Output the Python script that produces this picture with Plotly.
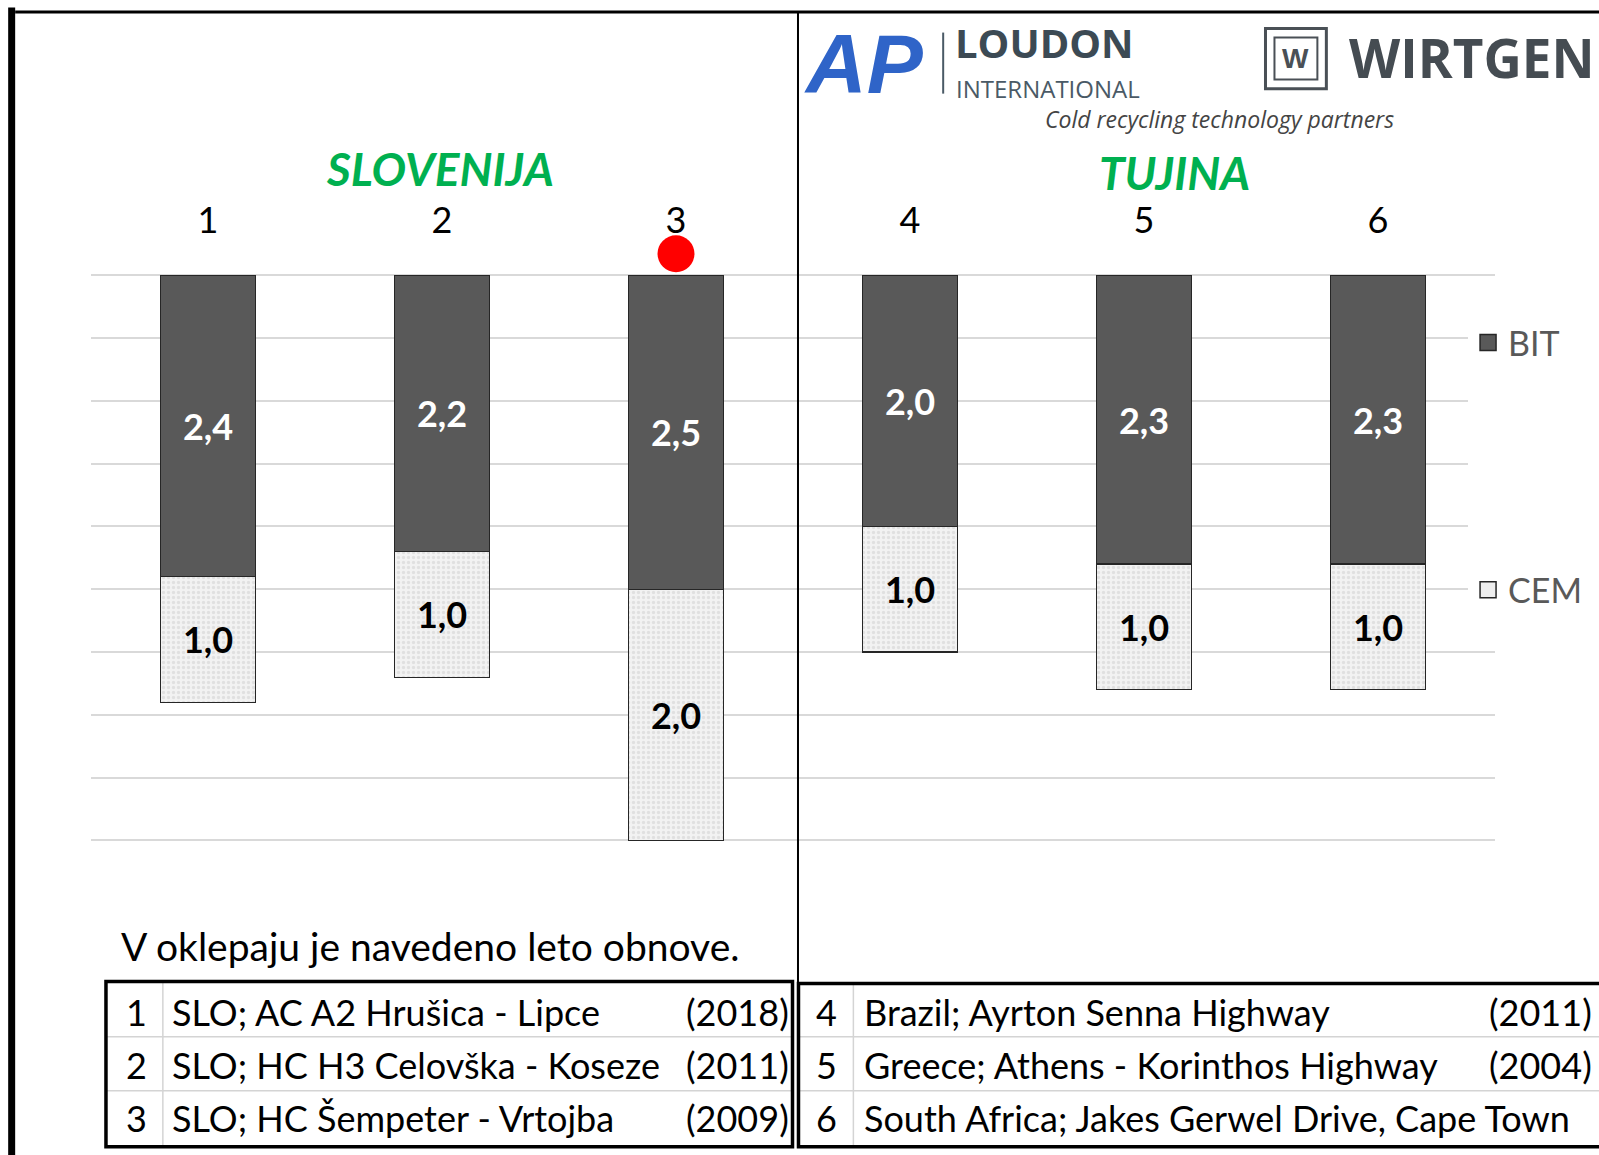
import plotly.graph_objects as go

# ---------------- data ----------------
categories = ["1", "2", "3", "4", "5", "6"]
bit_values = [2.4, 2.2, 2.5, 2.0, 2.3, 2.3]
cem_values = [1.0, 1.0, 2.0, 1.0, 1.0, 1.0]
series_names = ["BIT", "CEM"]
group_titles = ["SLOVENIJA", "TUJINA"]
highlighted = ["3"]
y_ticks = [0, 0.5, 1, 1.5, 2, 2.5, 3, 3.5, 4, 4.5]

left_ids = ["1", "2", "3"]
left_names = ["SLO; AC A2 Hrušica - Lipce", "SLO; HC H3 Celovška - Koseze", "SLO; HC Šempeter - Vrtojba"]
left_years = ["(2018)", "(2011)", "(2009)"]
right_ids = ["4", "5", "6"]
right_names = ["Brazil; Ayrton Senna Highway", "Greece; Athens - Korinthos Highway",
               "South Africa; Jakes Gerwel Drive, Cape Town"]
right_years = ["(2011)", "(2004)", ""]
note_text = "V oklepaju je navedeno leto obnove."

# ---------------- geometry (pixels) ----------------
W, H = 1599, 1155
Y_TOP, Y_BOT = -0.2, 4.52          # axis range (reversed)
PX_PER_UNIT = 125.5
ZERO_PX = 275.3                    # pixel row of value 0
L, R = 91, 1498
T = ZERO_PX + Y_TOP * PX_PER_UNIT  # plot area top
B = ZERO_PX + Y_BOT * PX_PER_UNIT  # plot area bottom
FONT = "Lato"


def px(x):
    return (x - L) / (R - L)


def py(y):
    return (B - y) / (B - T)


fig = go.Figure()

fig.add_trace(go.Bar(
    x=categories, y=bit_values, name=series_names[0], showlegend=False,
    marker=dict(color="#595959", line=dict(color="#262626", width=1.2)),
    texttemplate="%{y:.1f}", textposition="inside", insidetextanchor="middle",
    textangle=0, constraintext="none",
    textfont=dict(family=FONT, size=36, color="white", weight="bold"),
))
fig.add_trace(go.Bar(
    x=categories, y=cem_values, name=series_names[1], showlegend=False,
    marker=dict(color="#efefef", line=dict(color="#262626", width=1.2),
                pattern=dict(shape=".", fgcolor="#cdcdcd", bgcolor="#f2f2f2",
                             size=5, solidity=0.35)),
    texttemplate="%{y:.1f}", textposition="inside", insidetextanchor="middle",
    textangle=0, constraintext="none",
    textfont=dict(family=FONT, size=36, color="black", weight="bold"),
))

# highlight marker
fig.add_trace(go.Scatter(
    x=highlighted, y=[-0.17] * len(highlighted), mode="markers", showlegend=False,
    marker=dict(color="#ff0000", size=37, line=dict(width=0)), cliponaxis=False,
    hoverinfo="skip",
))

# legend entries
fig.add_trace(go.Scatter(
    x=[None], y=[None], mode="markers", name=series_names[0], legendgroup="a",
    marker=dict(symbol="square", size=18, color="#595959", line=dict(color="#262626", width=1.5)),
))
fig.add_trace(go.Scatter(
    x=[None], y=[None], mode="markers", name=series_names[1], legendgroup="b",
    marker=dict(symbol="square", size=18, color="#eeeeee", line=dict(color="#262626", width=1.5)),
))

shapes = []


def line(x0, y0, x1, y1, width, color="black"):
    shapes.append(dict(type="line", xref="paper", yref="paper",
                       x0=px(x0), y0=py(y0), x1=px(x1), y1=py(y1),
                       line=dict(color=color, width=width), layer="above"))


def rect(x0, y0, x1, y1, width, color="black"):
    shapes.append(dict(type="rect", xref="paper", yref="paper",
                       x0=px(x0), y0=py(y0), x1=px(x1), y1=py(y1),
                       line=dict(color=color, width=width), layer="above"))


# frame lines
line(11.5, 8, 11.5, H + 5, 7)
line(15, 12.5, W + 5, 12.5, 3)
line(799.5, 12, 799.5, 982, 2)

# tables
grey = "#d4d4d4"
for yy in (1036, 1090):
    line(106, yy, 794, yy, 1.5, grey)
    line(800, yy, W + 5, yy, 1.5, grey)
line(163, 981, 163, 1146, 1.5, grey)
line(855, 983, 855, 1146, 1.5, grey)
rect(106, 981, 794, 1146, 3.5)
rect(800, 983, W + 20, 1146, 3.5)

# wirtgen logo box
rect(1268, 29, 1329, 89, 3, "#4a5056")
rect(1277, 38, 1320, 80, 2, "#4a5056")
# loudon divider
line(945, 33, 945, 94, 2, "#4a5a66")

annotations = []


def text(x, y, s, size, color="black", xanchor="center", family=FONT, weight="normal",
         style="normal", yanchor="middle"):
    annotations.append(dict(xref="paper", yref="paper", x=px(x), y=py(y), text=s,
                            showarrow=False, xanchor=xanchor, yanchor=yanchor,
                            font=dict(family=family, size=size, color=color,
                                      weight=weight, style=style)))


# group titles
text(441, 169, group_titles[0], 46, "#00b050", weight="bold", style="italic")
text(1177, 173, group_titles[1], 46, "#00b050", weight="bold", style="italic")

# note
text(119, 945, note_text, 39, "black", xanchor="left")

# table rows
row_y = [1011, 1064, 1117]
for i in range(3):
    text(137, row_y[i], left_ids[i], 36)
    text(170, row_y[i], left_names[i], 36, xanchor="left")
    text(792, row_y[i], left_years[i], 36, xanchor="right")
    text(828, row_y[i], right_ids[i], 36)
    text(864, row_y[i], right_names[i], 36, xanchor="left")
    if right_years[i]:
        text(1597, row_y[i], right_years[i], 36, xanchor="right")

# logos as text
text(866, 64, "<i><b>AP</b></i>", 84, "#2f64c8", family="Liberation Sans")
text(955, 43, "LOUDON", 40, "#3c4a54", xanchor="left", family="Open Sans", weight="bold")
text(956, 89, "INTERNATIONAL", 24, "#4a5a66", xanchor="left", family="Open Sans")
text(1298, 59, "<b>W</b>", 28, "#4a5056", family="Liberation Sans")
text(1350, 58, "WIRTGEN", 53, "#454c52", xanchor="left", family="Open Sans", weight="bold")
text(1222, 119, "Cold recycling technology partners", 23, "#444444",
     family="Open Sans", style="italic")

fig.update_layout(
    width=W, height=H,
    margin=dict(l=L, r=W - R, t=T, b=H - B, pad=0),
    paper_bgcolor="white", plot_bgcolor="white",
    barmode="stack", bargap=0.595,
    separators=", ",
    font=dict(family=FONT, color="black"),
    showlegend=True,
    legend=dict(x=px(1471), y=py(314), xanchor="left", yanchor="top",
                bgcolor="white", borderwidth=0, tracegroupgap=200,
                font=dict(family=FONT, size=34, color="#595959"),
                itemsizing="trace"),
    xaxis=dict(type="category", side="top", categoryorder="array", categoryarray=categories,
               showgrid=False, zeroline=False, showline=False, ticks="",
               ticklabelstandoff=9,
               tickfont=dict(family=FONT, size=36, color="black")),
    yaxis=dict(range=[Y_BOT, Y_TOP], tickvals=y_ticks, showticklabels=False,
               showgrid=True, gridcolor="#d9d9d9", gridwidth=1.5,
               zeroline=True, zerolinecolor="#d9d9d9", zerolinewidth=1.5,
               showline=False, ticks=""),
    shapes=shapes, annotations=annotations,
)

fig.write_html("out.html", config={"displayModeBar": False},
               post_script="document.body.style.margin='0';document.body.style.overflow='hidden';")
